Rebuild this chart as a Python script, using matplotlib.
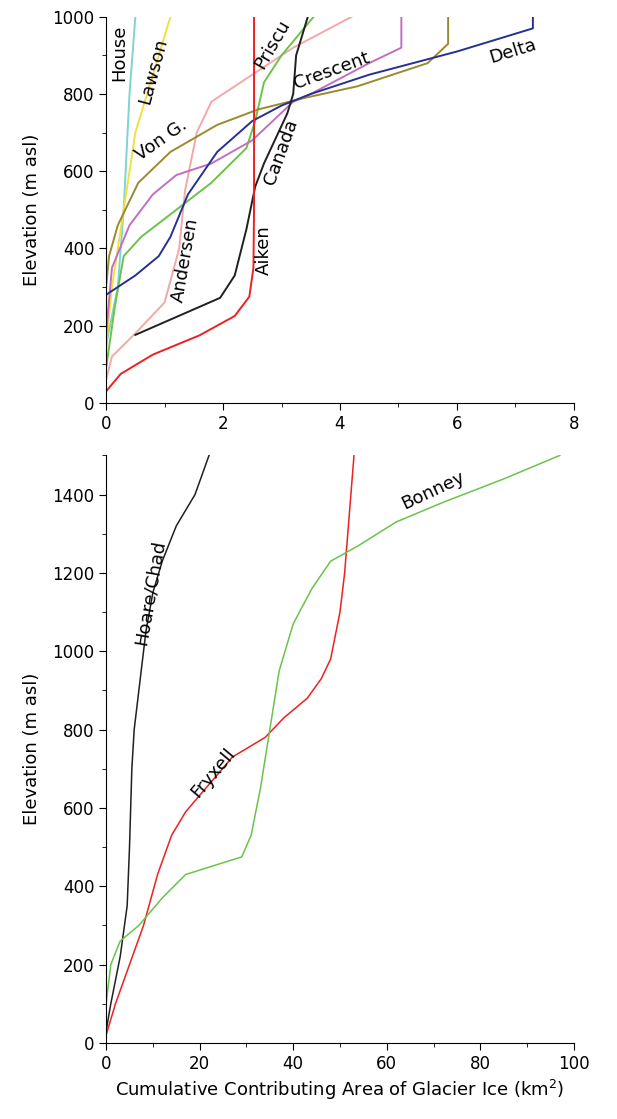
import matplotlib
matplotlib.use("Agg")
import matplotlib.pyplot as plt

# Top panel series (area km2, elevation m)
aiken_x = [0.0, 0.25, 0.8, 1.6, 2.2, 2.45, 2.52, 2.53, 2.53]
aiken_y = [30, 75, 125, 175, 225, 275, 350, 500, 1000]
canada_x = [0.5, 1.95, 2.2, 2.4, 2.55, 2.7, 3.1, 3.2, 3.25, 3.45]
canada_y = [176, 272, 330, 450, 560, 620, 750, 800, 900, 1000]
andersen_x = [0, 0.1, 0.5, 1.0, 1.25, 1.35, 1.55, 1.8, 2.5, 3.2, 4.2]
andersen_y = [60, 120, 180, 260, 400, 550, 700, 780, 850, 920, 1000]
priscu_x = [0, 0.15, 0.3, 0.6, 1.2, 1.8, 2.4, 2.55, 2.7, 3.0, 3.55]
priscu_y = [90, 250, 380, 430, 500, 570, 660, 730, 830, 900, 1000]
crescent_x = [0, 0.1, 0.4, 0.8, 1.2, 1.8, 2.5, 3.2, 3.5, 4.0, 4.5, 5.05, 5.05]
crescent_y = [180, 350, 460, 540, 590, 620, 680, 780, 800, 840, 880, 920, 1000]
vong_x = [0, 0.05, 0.2, 0.55, 1.1, 1.9, 2.6, 3.4, 4.3, 5.5, 5.85, 5.85]
vong_y = [300, 380, 460, 570, 650, 720, 760, 790, 820, 880, 930, 1000]
delta_x = [0, 0, 0.5, 0.9, 1.1, 1.4, 1.9, 2.5, 3.0, 3.5, 4.5, 6.0, 7.3, 7.3]
delta_y = [100, 280, 330, 380, 430, 540, 650, 730, 770, 800, 850, 910, 970, 1000]
house_x = [0, 0.2, 0.3, 0.4, 0.5]
house_y = [150, 300, 500, 800, 1000]
lawson_x = [0, 0.1, 0.3, 0.5, 0.8, 1.1]
lawson_y = [150, 300, 500, 700, 850, 1000]

# Bottom panel series
hoare_x = [0, 1, 3, 4.5, 5, 5.5, 6, 7, 8.5, 10, 12, 15, 19, 22]
hoare_y = [30, 100, 220, 350, 500, 700, 800, 900, 1050, 1150, 1230, 1320, 1400, 1500]
fryxell_x = [0, 2, 5, 8, 11, 14, 17, 22, 27, 34, 38, 43, 46, 48, 50, 51, 52, 53]
fryxell_y = [20, 100, 200, 300, 430, 530, 590, 660, 730, 780, 830, 880, 930, 980, 1100, 1200, 1350, 1500]
bonney_x = [0, 1, 3, 7, 12, 17, 29, 31, 33, 35, 37, 40, 44, 48, 54, 62, 72, 85, 97]
bonney_y = [100, 200, 260, 300, 370, 430, 475, 530, 650, 800, 950, 1070, 1160, 1230, 1270, 1330, 1380, 1440, 1500]

fig = plt.figure(figsize=(6.17, 11.19), dpi=100)
ax1 = fig.add_axes([0.172, 0.640, 0.758, 0.345])
ax2 = fig.add_axes([0.172, 0.068, 0.758, 0.525])

lw = 1.4
ax1.plot(house_x, house_y, color="#7fd3d0", lw=lw)
ax1.plot(lawson_x, lawson_y, color="#f0e040", lw=lw)
ax1.plot(andersen_x, andersen_y, color="#f4a8a8", lw=lw)
ax1.plot(priscu_x, priscu_y, color="#6cc24a", lw=lw)
ax1.plot(crescent_x, crescent_y, color="#c070c0", lw=lw)
ax1.plot(vong_x, vong_y, color="#9a8a30", lw=lw)
ax1.plot(delta_x, delta_y, color="#283090", lw=lw)
ax1.plot(canada_x, canada_y, color="#202020", lw=lw)
ax1.plot(aiken_x, aiken_y, color="#ee2020", lw=lw)

fs = 13
ax1.text(0.22, 980, "House", rotation=90, ha="center", va="top", fontsize=fs)
ax1.text(0.8, 950, "Lawson", rotation=75, ha="center", va="top", fontsize=fs)
ax1.text(0.95, 680, "Von G.", rotation=35, ha="center", va="center", fontsize=fs)
ax1.text(1.35, 370, "Andersen", rotation=80, ha="center", va="center", fontsize=fs)
ax1.text(2.7, 395, "Aiken", rotation=90, ha="center", va="center", fontsize=fs)
ax1.text(3.0, 650, "Canada", rotation=70, ha="center", va="center", fontsize=fs)
ax1.text(2.85, 930, "Priscu", rotation=60, ha="center", va="center", fontsize=fs)
ax1.text(3.85, 860, "Crescent", rotation=20, ha="center", va="center", fontsize=fs)
ax1.text(6.95, 910, "Delta", rotation=17, ha="center", va="center", fontsize=fs)

ax2.plot(hoare_x, hoare_y, color="#202020", lw=1.1)
ax2.plot(fryxell_x, fryxell_y, color="#ee2020", lw=1.1)
ax2.plot(bonney_x, bonney_y, color="#6cc24a", lw=1.1)
ax2.text(9.5, 1150, "Hoare/Chad", rotation=80, ha="center", va="center", fontsize=fs)
ax2.text(23, 690, "Fryxell", rotation=50, ha="center", va="center", fontsize=fs)
ax2.text(70, 1410, "Bonney", rotation=25, ha="center", va="center", fontsize=fs)

for ax in (ax1, ax2):
    for s in ("top", "right"):
        ax.spines[s].set_visible(False)
    ax.tick_params(labelsize=12, direction="out", length=5)
    ax.set_ylabel("Elevation (m asl)", fontsize=13, labelpad=8)

ax1.set_xlim(0, 8); ax1.set_ylim(0, 1000)
ax1.set_xticks(range(0, 9, 2)); ax1.set_yticks(range(0, 1001, 200))
ax1.set_xticks(range(0, 9, 1), minor=True); ax1.set_yticks(range(0, 1001, 100), minor=True)
ax2.set_xlim(0, 100); ax2.set_ylim(0, 1500)
ax2.set_xticks(range(0, 101, 20)); ax2.set_yticks(range(0, 1401, 200))
ax2.set_xticks(range(0, 101, 10), minor=True); ax2.set_yticks(range(0, 1501, 100), minor=True)
for ax in (ax1, ax2):
    ax.tick_params(which="minor", direction="out", length=3)
ax2.set_xlabel("Cumulative Contributing Area of Glacier Ice (km$^2$)", fontsize=13)

fig.savefig("out.png", dpi=100)
